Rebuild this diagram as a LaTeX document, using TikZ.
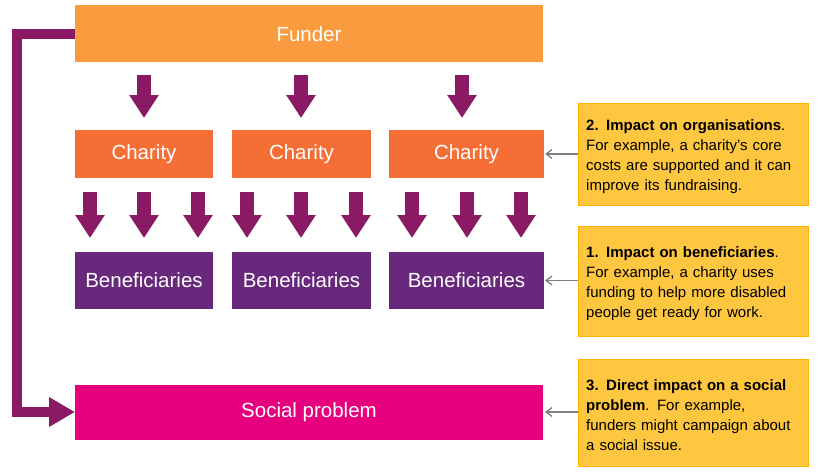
\documentclass[tikz,border=0pt]{standalone}
\usepackage{fontspec}
\setmainfont{Liberation Sans}
\usetikzlibrary{arrows.meta}
\definecolor{funderorange}{HTML}{F99B3E}
\definecolor{charityorange}{HTML}{F46E36}
\definecolor{benpurple}{HTML}{68287C}
\definecolor{socialpink}{HTML}{E6007E}
\definecolor{arrowplum}{HTML}{8A1A63}
\definecolor{noteyellow}{HTML}{FFC73F}
\tikzset{
  box/.style={inner sep=0pt,text=white,font=\fontsize{20.5}{24}\selectfont},
  note/.style={fill=noteyellow,draw=orange!60!yellow,inner sep=0pt,text width=230pt,align=left,
    font=\fontsize{15}{20}\selectfont,anchor=north west},
  blockarrow/.style={arrowplum,line width=14pt,-{Triangle[width=28pt,length=23pt]}},
  pointer/.style={gray,line width=1.3pt,-{Straight Barb[length=6pt,width=9pt]}}
}
\begin{document}
\begin{tikzpicture}[x=1pt,y=-1pt]
\useasboundingbox (0,0) rectangle (824,474);
% boxes
\fill[funderorange] (75,5) rectangle (543,62);
\node[box] (fu) at (309,34) {Funder};
\fill[charityorange] (75,130) rectangle (213,178);
\fill[charityorange] (232,130) rectangle (371,178);
\fill[charityorange] (389,130) rectangle (544,178);
\node[box] (ch1) at (144,154) {Charity};
\node[box] (ch2) at (301.5,154) {Charity};
\node[box] (ch3) at (466.5,154) {Charity};
\fill[benpurple] (75,252) rectangle (213,309);
\fill[benpurple] (232,252) rectangle (371,309);
\fill[benpurple] (389,252) rectangle (544,309);
\node[box] (be1) at (144,280.5) {Beneficiaries};
\node[box] (be2) at (301.5,280.5) {Beneficiaries};
\node[box] (be3) at (466.5,280.5) {Beneficiaries};
\fill[socialpink] (75,385) rectangle (543,440);
\node[box] (sp) at (309,412) {Social problem};
\coordinate (fuw) at (75,34);
\coordinate (spw) at (75,412);
% notes
\node[note,minimum height=102pt] (n2) at (578,103) {\hspace*{8pt}\parbox[t]{212pt}{\raggedright\vspace*{4pt}\textbf{2. Impact on organisations}.
For example, a charity’s core costs are supported and it can improve its fundraising.}};
\node[note,minimum height=110pt] (n1) at (578,226) {\hspace*{8pt}\parbox[t]{212pt}{\raggedright\vspace*{4pt}\textbf{1. Impact on beneficiaries}.
For example, a charity uses funding to help more disabled people get ready for work.}};
\node[note,minimum height=107pt] (n3) at (578,359) {\hspace*{8pt}\parbox[t]{212pt}{\raggedright\vspace*{4pt}\textbf{3. Direct impact on a social problem}. For example, funders might campaign about a social issue.}};
% pointers
\draw[pointer] (n2.west|-ch3) -- (545,154);
\draw[pointer] (n1.west|-be3) -- (545,280.5);
\draw[pointer] (n3.west|-sp) -- (545,412);
% funder to charities
\foreach \x in {144,301,462}
  \draw[blockarrow] (\x,75) -- (\x,118);
% charities to beneficiaries
\foreach \x in {90,144,198,247,301,356,412,467,521}
  \draw[blockarrow] (\x,192) -- (\x,238);
% bracket
\draw[arrowplum,line width=10pt,-{Triangle[width=28pt,length=26pt]}] (fuw) -- (17,34) -- (17,412) -- (spw);
\end{tikzpicture}
\end{document}
